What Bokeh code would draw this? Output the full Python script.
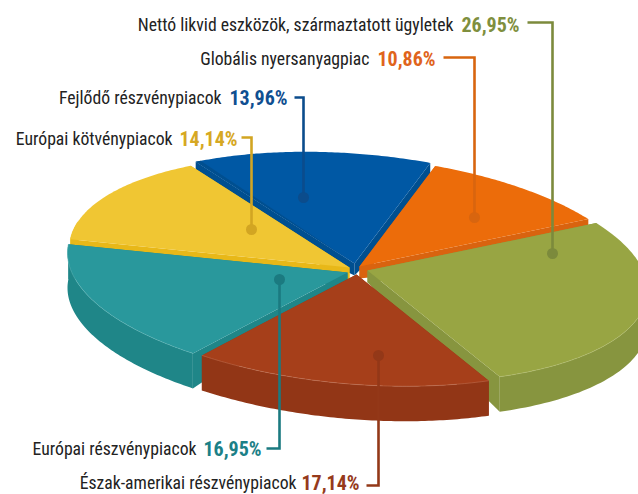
import numpy as np
from bokeh.plotting import figure
from bokeh.models import Range1d
from bokeh.core.properties import value
from bokeh.embed import file_html
from bokeh.resources import INLINE

# ---- data (clockwise, starting at the blue/orange boundary)
labels = ["Globális nyersanyagpiac",
          "Nettó likvid eszközök, származtatott ügyletek",
          "Észak-amerikai részvénypiacok",
          "Európai részvénypiacok",
          "Európai kötvénypiacok",
          "Fejlődő részvénypiacok"]
shares = [10.86, 26.95, 17.14, 16.95, 14.14, 13.96]

# ---- style / layout
top_col = ["#ec6c0a", "#98a543", "#a63f1a", "#29989c", "#f0c633", "#0058a4"]
side_col = ["#d9630f", "#87953f", "#923616", "#1f8688", "#e8b818", "#004f90"]
edge_col = ["#f08a3c", "#b4bf70", "#c07050", "#5fb5b8", "#f0c633", "#2a78b8"]
text_col = ["#e0641c", "#7f8f3e", "#963a1c", "#1b8087", "#d6a823", "#0f4f91"]
line_col = ["#d8650f", "#7c8a3c", "#933818", "#1b7a80", "#d2a522", "#0b4c8c"]
explode = [(4, -1), (12, 3), (1, 7), (-8, 5), (-6, 0), (-1, -4)]
label_end = [369, 453, 296, 196, 172, 221]
value_start = [377, 461, 301, 203, 179, 229]
text_y = [58, 24, 482, 448, 138, 97]
leader_start = [443, 527, 366, 266, 241, 294]
leader_y = [57, 22, 485, 448, 137, 97]
dot_xy = [(474, 217), (552, 253), (378, 355), (279, 279), (251, 229), (303, 197)]
draw_order = [5, 4, 0, 3, 1, 2]
FONT = "'Roboto Condensed', 'DejaVu Sans Condensed', Roboto"

CX, CY, A, B, SHEAR, START = 355.0, 267.0, 280.0, 110.0, 0.07, -74.3
D0, D1 = 12.0, 23.0


def project(theta, r, off):
    x = A * r * np.cos(theta)
    y = B * r * np.sin(theta) + SHEAR * x
    return CX + off[0] + x, CY + off[1] + y


p = figure(width=638, height=494, x_range=Range1d(0, 638), y_range=Range1d(494, 0),
           output_backend="svg", toolbar_location=None, min_border=0,
           outline_line_color=None, background_fill_color="white")
p.axis.visible = False
p.grid.visible = False

edges = np.radians(START + 3.6 * np.concatenate([[0], np.cumsum(shares)]))

for i in draw_order:
    off = explode[i]
    th = np.linspace(edges[i], edges[i + 1], 80)
    ax, ay = project(0.0, 0.0, off)
    ox, oy = project(th, 1.0, off)
    d_apex, d_rim = D0, D0 + D1
    # cut faces
    for k in (0, -1):
        p.patch([ax, ox[k], ox[k], ax], [ay, oy[k], oy[k] + d_rim, ay + d_apex],
                fill_color=side_col[i], line_color=None)
    # rim face, only where it can show
    front = np.sin(th) > -0.25
    if front.any():
        fx, fy = ox[front], oy[front]
        p.patch(np.concatenate([fx, fx[::-1]]), np.concatenate([fy, fy[::-1] + d_rim]),
                fill_color=side_col[i], line_color=None)
    # top
    p.patch(np.concatenate([[ax], ox]), np.concatenate([[ay], oy]),
            fill_color=top_col[i], line_color=None)
    if front.any():
        p.line(ox[front], oy[front], line_color=edge_col[i], line_width=0.8, line_alpha=0.7)
    if i == 5:  # shaded sliver on the cut next to the yellow slice
        sth = np.radians(np.array([0.0, 1.2])) + edges[i]
        sx, sy = project(sth, 1.0, off)
        p.patch([ax, sx[0], sx[1]], [ay, sy[0], sy[1]], fill_color=side_col[i], line_color=None)

# leaders and dots
for i in range(6):
    dx, dy = dot_xy[i]
    p.line([leader_start[i], dx, dx], [leader_y[i], leader_y[i], dy],
           line_color=line_col[i], line_width=2.6, line_join="miter")
    p.scatter([dx], [dy], size=11, marker="circle", fill_color=line_col[i], line_color=None)

# texts
p.text(label_end, text_y, text=labels, text_font=value(FONT),
       text_font_size="17.7px", text_color="#222222", text_align="right", text_baseline="middle")
val_txt = [f"{v:.2f}".replace(".", ",") + "%" for v in shares]
p.text(value_start, text_y, text=val_txt, text_font=value(FONT),
       text_font_size="20px", text_font_style="bold", text_color=text_col,
       text_align="left", text_baseline="middle")

open("out.html", "w").write(file_html(p, INLINE))
